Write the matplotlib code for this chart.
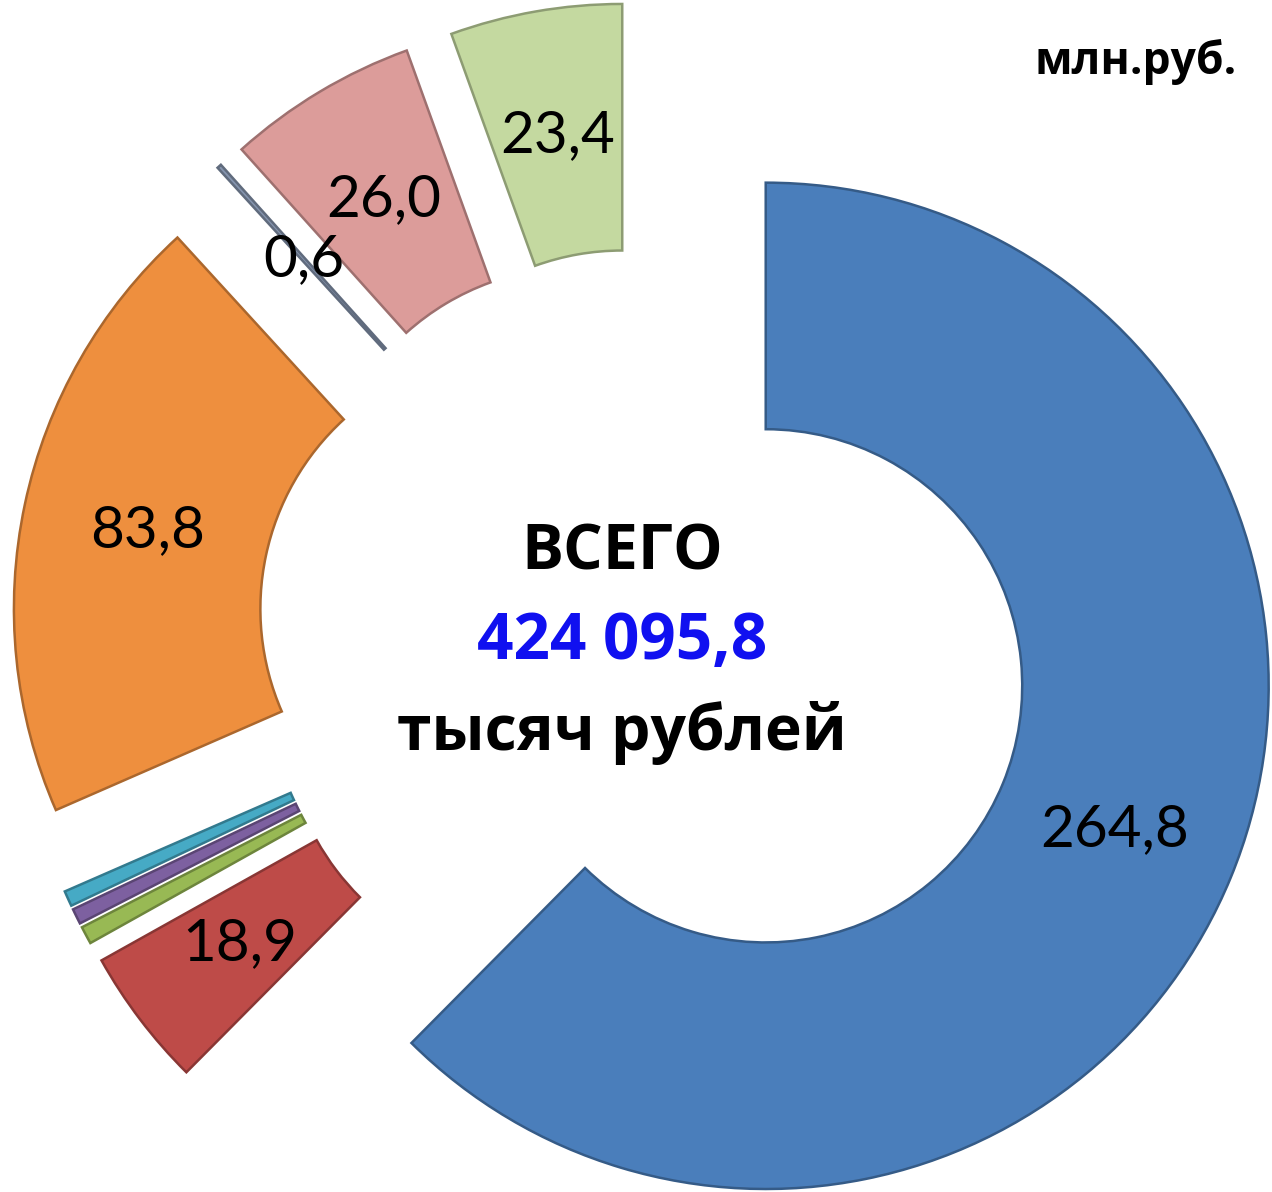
import numpy as np
import matplotlib.pyplot as plt
from matplotlib.colors import to_rgb

# Data (млн.руб.), clockwise from 12 o'clock
values = [264.8, 18.9, 2.4, 2.1, 2.1, 83.8, 0.6, 26.0, 23.4]
labels = ['264,8', '18,9', '', '', '', '83,8', '0,6', '26,0', '23,4']
colors = ['#4A7EBB', '#BE4B48', '#98B954', '#7D60A0', '#46AAC5',
          '#EE8F3E', '#8594AE', '#DC9C9A', '#C4D9A0']
total_text = '424 095,8'
unit_text = 'млн.руб.'

plt.rcParams['font.family'] = ['Open Sans', 'DejaVu Sans']


def darker(c, k=0.7):
    r, g, b = to_rgb(c)
    return (r * k, g * k, b * k)


fig = plt.figure(figsize=(12.72, 11.92), dpi=100)
ax = fig.add_axes([0, 0, 1, 1])

wedges, texts, autotexts = ax.pie(
    values, colors=colors, startangle=90, counterclock=False,
    explode=[0.26] * len(values), radius=1.0,
    autopct='%1.1f', pctdistance=0.75,
    wedgeprops=dict(width=0.49, linewidth=1.8),
    textprops=dict(fontsize=42, color='black', family=['Lato', 'DejaVu Sans']))

for w, c in zip(wedges, colors):
    w.set_edgecolor(darker(c, 0.72))

for t, lab in zip(autotexts, labels):
    t.set_text(lab)
    t.set_ha('center')
    t.set_va('center')

# centre text
ax.text(-0.045, 0.165, 'ВСЕГО', ha='center', va='center',
        fontsize=45, fontweight='bold', color='black')
ax.text(-0.045, -0.012, total_text, ha='center', va='center',
        fontsize=46, fontweight='bold', color='#1010F0')
ax.text(-0.045, -0.192, 'тысяч рублей', ha='center', va='center',
        fontsize=45, fontweight='bold', color='black')

ax.text(0.975, 1.14, unit_text, ha='center', va='center',
        fontsize=32, fontweight='bold', color='black')

ax.set_xlim(-1.282, 1.247)
ax.set_ylim(-1.105, 1.264)
ax.set_aspect('equal', adjustable='datalim')
ax.axis('off')

fig.savefig('out.png', dpi=100)
